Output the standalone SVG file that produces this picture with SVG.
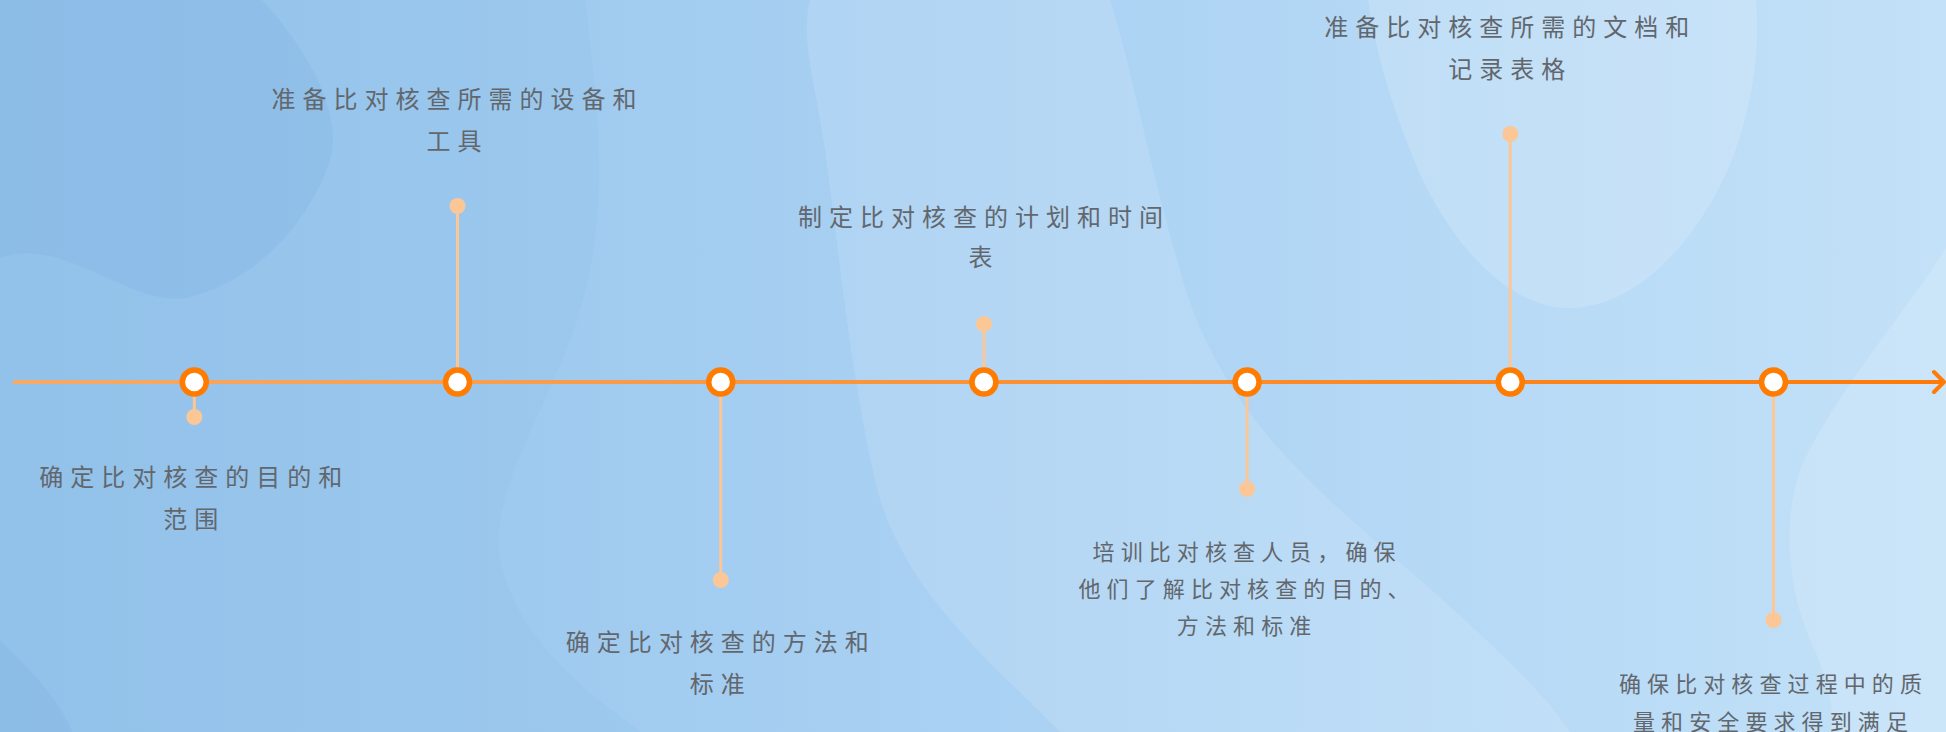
<svg xmlns="http://www.w3.org/2000/svg" width="1946" height="732" viewBox="0 0 1946 732">
  <defs>
    <linearGradient id="bg" x1="0" y1="0" x2="1" y2="0">
      <stop offset="0" stop-color="#93c2ea"/>
      <stop offset="0.5" stop-color="#a9d1f3"/>
      <stop offset="1" stop-color="#c3e1f8"/>
    </linearGradient>
    <linearGradient id="tl" gradientUnits="userSpaceOnUse" x1="13" y1="0" x2="1946" y2="0">
      <stop offset="0" stop-color="#f7aa66"/>
      <stop offset="1" stop-color="#ff7a06"/>
    </linearGradient>
    <style>
      .lbl { font-family: "Noto Sans CJK SC", "Noto Sans", sans-serif; fill: #62676d; text-anchor: middle; }
      .big { font-size: 24px; letter-spacing: 7px; }
      .sm { font-size: 22px; letter-spacing: 6.1px; }
      .stem { stroke: #fcc797; stroke-width: 3; fill: none; }
      .dot { fill: #fcc797; }
      .ring { fill: #ffffff; stroke: #ff7c00; stroke-width: 5.5; }
    </style>
  </defs>

  <!-- background -->
  <rect x="0" y="0" width="1946" height="732" fill="url(#bg)"/>
  <path d="M0 0 H262 C300 40 345 110 330 160 C310 220 260 280 186 298 C140 305 90 260 37 254 C20 252 8 255 0 258 Z" fill="#7fb3e3" opacity="0.35"/>
  <path d="M0 640 C30 670 60 700 72 732 H0 Z" fill="#7fb3e3" opacity="0.35"/>
  <path d="M585 0 C600 120 612 230 570 340 C530 440 490 500 500 560 C520 650 600 700 640 732 H0 V0 Z" fill="#8fbfe9" opacity="0.25"/>
  <path d="M810 0 H1110 C1130 60 1150 170 1180 270 C1220 420 1330 500 1420 580 C1500 650 1550 700 1570 732 H1060 C990 660 900 590 875 480 C850 370 840 260 825 150 C815 80 800 40 810 0 Z" fill="#ffffff" opacity="0.12"/>
  <path d="M1368 0 H1756 C1762 60 1748 150 1700 220 C1660 280 1610 310 1565 308 C1500 305 1440 230 1410 150 C1390 100 1375 50 1368 0 Z" fill="#ffffff" opacity="0.16"/>
  <path d="M1946 248 C1900 320 1830 400 1800 470 C1780 530 1790 600 1815 650 C1830 690 1835 715 1830 732 H1946 Z" fill="#ffffff" opacity="0.14"/>

  <!-- connectors -->
  <g id="connectors">
    <line x1="13" y1="382" x2="1944" y2="382" stroke="url(#tl)" stroke-width="4"/>
    <polyline points="1934,372 1944,382 1934,392" fill="none" stroke="#ff7a06" stroke-width="4" stroke-linecap="round" stroke-linejoin="round"/>
    <line class="stem" x1="194.3" y1="382" x2="194.3" y2="417"/>
    <line class="stem" x1="457.5" y1="206" x2="457.5" y2="382"/>
    <line class="stem" x1="720.7" y1="382" x2="720.7" y2="580"/>
    <line class="stem" x1="983.9" y1="324" x2="983.9" y2="382"/>
    <line class="stem" x1="1247.1" y1="382" x2="1247.1" y2="489"/>
    <line class="stem" x1="1510.3" y1="134" x2="1510.3" y2="382"/>
    <line class="stem" x1="1773.5" y1="382" x2="1773.5" y2="620"/>
  </g>

  <g id="node1">
    <circle class="dot" cx="194.3" cy="417" r="8"/>
    <circle class="ring" cx="194.3" cy="382" r="12"/>
    <text class="lbl big" x="194.3" y="486">确定比对核查的目的和</text>
    <text class="lbl big" x="194.3" y="528">范围</text>
  </g>
  <g id="node2">
    <circle class="dot" cx="457.5" cy="206" r="8"/>
    <circle class="ring" cx="457.5" cy="382" r="12"/>
    <text class="lbl big" x="457.5" y="108">准备比对核查所需的设备和</text>
    <text class="lbl big" x="457.5" y="150">工具</text>
  </g>
  <g id="node3">
    <circle class="dot" cx="720.7" cy="580" r="8"/>
    <circle class="ring" cx="720.7" cy="382" r="12"/>
    <text class="lbl big" x="720.7" y="651">确定比对核查的方法和</text>
    <text class="lbl big" x="720.7" y="693">标准</text>
  </g>
  <g id="node4">
    <circle class="dot" cx="983.9" cy="324" r="8"/>
    <circle class="ring" cx="983.9" cy="382" r="12"/>
    <text class="lbl big" x="983.9" y="226">制定比对核查的计划和时间</text>
    <text class="lbl big" x="983.9" y="266">表</text>
  </g>
  <g id="node5">
    <circle class="dot" cx="1247.1" cy="489" r="8"/>
    <circle class="ring" cx="1247.1" cy="382" r="12"/>
    <text class="lbl sm" x="1247.1" y="559.5">培训比对核查人员，确保</text>
    <text class="lbl sm" x="1247.1" y="596.5">他们了解比对核查的目的、</text>
    <text class="lbl sm" x="1247.1" y="634">方法和标准</text>
  </g>
  <g id="node6">
    <circle class="dot" cx="1510.3" cy="134" r="8"/>
    <circle class="ring" cx="1510.3" cy="382" r="12"/>
    <text class="lbl big" x="1510.3" y="36">准备比对核查所需的文档和</text>
    <text class="lbl big" x="1510.3" y="78">记录表格</text>
  </g>
  <g id="node7">
    <circle class="dot" cx="1773.5" cy="620" r="8"/>
    <circle class="ring" cx="1773.5" cy="382" r="12"/>
    <text class="lbl sm" x="1773.5" y="691.5">确保比对核查过程中的质</text>
    <text class="lbl sm" x="1773.5" y="729.5">量和安全要求得到满足</text>
  </g>
</svg>
